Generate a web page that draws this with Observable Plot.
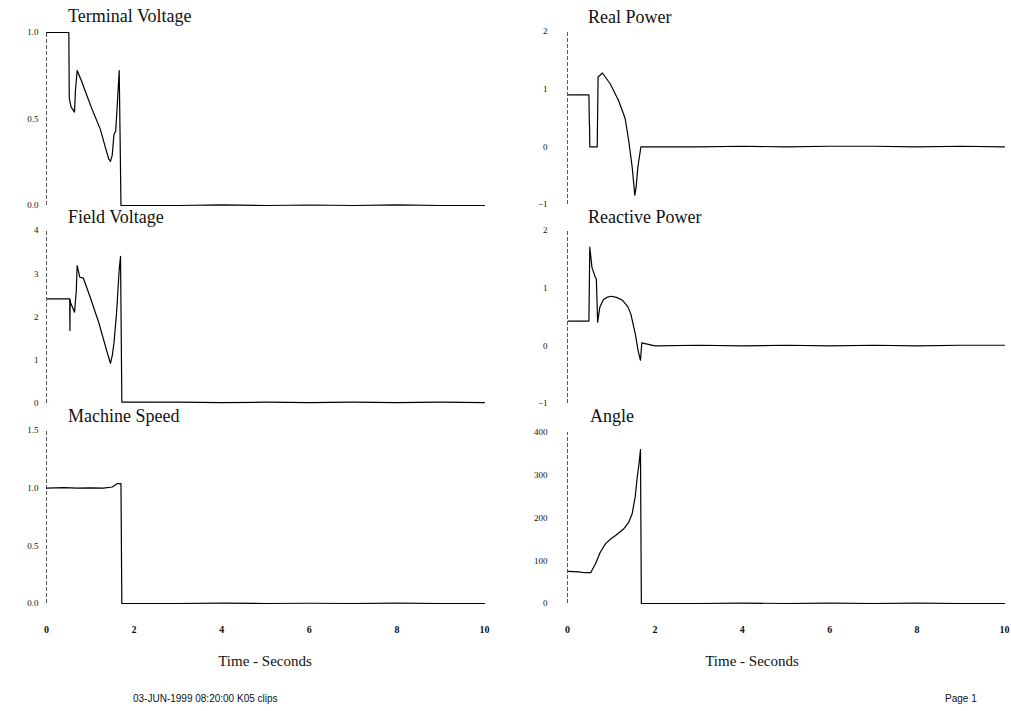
<!DOCTYPE html>
<html>
<head>
<meta charset="utf-8">
<script src="https://cdn.jsdelivr.net/npm/d3@7"></script>
<script src="https://cdn.jsdelivr.net/npm/@observablehq/plot@0.6"></script>
<style>
  html, body { margin: 0; padding: 0; background: #fff; }
  #page { position: relative; width: 1011px; height: 711px; overflow: hidden; font-family: "Liberation Serif", "DejaVu Serif", serif; color: #111; }
  .panel { position: absolute; }
  .panel svg { overflow: visible; }
  .title { position: absolute; font-size: 18px; white-space: nowrap; }
  .xlab { position: absolute; font-size: 15px; white-space: nowrap; transform: translateX(-50%); }
  .foot { position: absolute; font-size: 10px; white-space: nowrap; font-family: "Liberation Sans Narrow", "Liberation Sans", sans-serif; }
</style>
</head>
<body>
<div id="page"></div>
<script>
// ---- Data ----
const xTicks = [0, 2, 4, 6, 8, 10];

const tvTime  = [0, 0.51, 0.52, 0.56, 0.64, 0.66, 0.70, 0.80, 0.93, 1.05, 1.23, 1.35, 1.42, 1.46, 1.50, 1.54, 1.58, 1.62, 1.66, 1.68, 1.70, 3, 4, 5, 6, 7, 8, 9, 10];
const tvValue = [1.0, 1.0, 0.62, 0.57, 0.54, 0.66, 0.78, 0.72, 0.63, 0.55, 0.44, 0.33, 0.27, 0.255, 0.29, 0.41, 0.43, 0.60, 0.78, 0.40, 0.0, 0.0, 0.004, 0.0, 0.003, 0.0, 0.004, 0.0, 0.0];
const tvTicks = [0, 0.5, 1.0];

const fvTime  = [0.02, 0.53, 0.535, 0.54, 0.55, 0.64, 0.68, 0.70, 0.76, 0.84, 1.0, 1.2, 1.38, 1.46, 1.50, 1.54, 1.60, 1.66, 1.69, 1.72, 3, 4, 5, 6, 7, 8, 9, 10];
const fvValue = [2.42, 2.42, 1.69, 2.40, 2.33, 2.11, 2.60, 3.19, 2.92, 2.90, 2.45, 1.85, 1.20, 0.93, 1.10, 1.39, 2.10, 3.10, 3.40, 0.03, 0.03, 0.02, 0.03, 0.02, 0.03, 0.02, 0.03, 0.02];
const fvTicks = [0, 1, 2, 3, 4];

const msTime  = [0, 0.4, 0.7, 1.0, 1.3, 1.5, 1.62, 1.70, 1.72, 3, 4, 5, 6, 7, 8, 9, 10];
const msValue = [1.0, 1.005, 1.0, 1.003, 1.0, 1.01, 1.04, 1.04, 0.0, 0.0, 0.003, 0.0, 0.002, 0.0, 0.003, 0.0, 0.0];
const msTicks = [0, 0.5, 1.0, 1.5];

const rpTime  = [0.02, 0.49, 0.50, 0.505, 0.51, 0.68, 0.70, 0.80, 0.98, 1.17, 1.32, 1.40, 1.48, 1.54, 1.57, 1.61, 1.68, 3, 4, 5, 6, 7, 8, 9, 10];
const rpValue = [0.90, 0.90, 0.40, 0.35, 0.0, 0.0, 1.21, 1.28, 1.09, 0.80, 0.49, 0.11, -0.35, -0.84, -0.70, -0.35, 0.0, 0.0, 0.01, 0.0, 0.01, 0.01, 0.0, 0.01, 0.0];
const rpTicks = [-1, 0, 1, 2];

const qpTime  = [0.02, 0.49, 0.51, 0.56, 0.63, 0.66, 0.69, 0.74, 0.82, 0.90, 1.00, 1.12, 1.26, 1.38, 1.45, 1.55, 1.62, 1.67, 1.70, 2.0, 3, 4, 5, 6, 7, 8, 9, 10];
const qpValue = [0.43, 0.43, 1.71, 1.36, 1.20, 1.16, 0.41, 0.67, 0.80, 0.84, 0.86, 0.84, 0.79, 0.68, 0.55, 0.21, -0.10, -0.25, 0.05, 0.0, 0.01, 0.0, 0.01, 0.0, 0.01, 0.0, 0.01, 0.01];
const qpTicks = [-1, 0, 1, 2];

const anTime  = [0.02, 0.25, 0.40, 0.53, 0.64, 0.75, 0.87, 1.00, 1.10, 1.29, 1.40, 1.48, 1.55, 1.59, 1.64, 1.67, 1.69, 3, 4, 5, 6, 7, 8, 9, 10];
const anValue = [75, 74, 72, 72, 93, 120, 140, 152, 159, 175, 190, 210, 250, 290, 330, 360, 0, 0, 1, 0, 1, 0, 1, 0, 0];
const anTicks = [0, 100, 200, 300, 400];

// ---- Layout helpers ----
const page = document.getElementById("page");

function zip(t, v) { return t.map((d, i) => ({t: d, v: v[i]})); }

function panel({left, top, width, mLeft, mRight, plotTop, plotBottom, yDomain, yTicks, yFmt, pad, time, value, showX}) {
  const mTop = 6;
  const mBottom = showX ? 40 : 8;
  const h = mTop + (plotBottom - plotTop) + mBottom;
  const data = zip(time, value);
  const marks = [
    Plot.ruleX([0], {y1: yDomain[0], y2: yDomain[1], stroke: "#444", strokeWidth: 0.9, strokeDasharray: "4,2"}),
    Plot.axisY({ticks: yTicks, tickSize: 0, tickPadding: pad, tickFormat: yFmt, label: null, fontSize: 9}),
    Plot.line(data, {x: "t", y: "v", stroke: "#000", strokeWidth: 1.2})
  ];
  if (showX) {
    marks.push(Plot.axisX({ticks: xTicks, tickSize: 0, tickPadding: 22, tickFormat: d3.format("d"), label: null, fontSize: 10, fontWeight: "bold"}));
  }
  const chart = Plot.plot({
    width, height: h,
    marginLeft: mLeft, marginRight: mRight, marginTop: mTop, marginBottom: mBottom,
    style: {fontFamily: "'Liberation Serif', serif", fontSize: "9px", background: "transparent", color: "#111"},
    x: {domain: [0, 10], axis: showX ? undefined : null},
    y: {domain: yDomain},
    marks
  });
  const wrap = document.createElement("div");
  wrap.className = "panel";
  wrap.style.left = left + "px";
  wrap.style.top = (plotTop - mTop) + "px";
  wrap.appendChild(chart);
  page.appendChild(wrap);
}

function text(cls, str, x, y) {
  const d = document.createElement("div");
  d.className = cls;
  d.textContent = str;
  d.style.left = x + "px";
  d.style.top = y + "px";
  page.appendChild(d);
}

const L = {left: 0, width: 500, mLeft: 46, mRight: 16, pad: 8};
const R = {left: 500, width: 511, mLeft: 67, mRight: 7, pad: 20};

panel({...L, plotTop: 32, plotBottom: 205, yDomain: [0, 1.0], yTicks: tvTicks, yFmt: d3.format(".1f"), time: tvTime, value: tvValue, showX: false});
panel({...L, plotTop: 230, plotBottom: 403, yDomain: [0, 4], yTicks: fvTicks, yFmt: d3.format("d"), time: fvTime, value: fvValue, showX: false});
panel({...L, plotTop: 430, plotBottom: 603, yDomain: [0, 1.5], yTicks: msTicks, yFmt: d3.format(".1f"), time: msTime, value: msValue, showX: true});
panel({...R, plotTop: 31, plotBottom: 204, yDomain: [-1, 2], yTicks: rpTicks, yFmt: d3.format("d"), time: rpTime, value: rpValue, showX: false});
panel({...R, plotTop: 230, plotBottom: 403, yDomain: [-1, 2], yTicks: qpTicks, yFmt: d3.format("d"), time: qpTime, value: qpValue, showX: false});
panel({...R, plotTop: 432, plotBottom: 603, yDomain: [0, 400], yTicks: anTicks, yFmt: d3.format("d"), time: anTime, value: anValue, showX: true});

text("title", "Terminal Voltage", 68, 6);
text("title", "Field Voltage", 68, 207);
text("title", "Machine Speed", 68, 406);
text("title", "Real Power", 588, 7);
text("title", "Reactive Power", 588, 207);
text("title", "Angle", 590, 406);

text("xlab", "Time - Seconds", 265, 653);
text("xlab", "Time - Seconds", 752, 653);

text("foot", "03-JUN-1999 08:20:00    K05 clips", 133, 693);
text("foot", "Page  1", 945, 693);
</script>
</body>
</html>
